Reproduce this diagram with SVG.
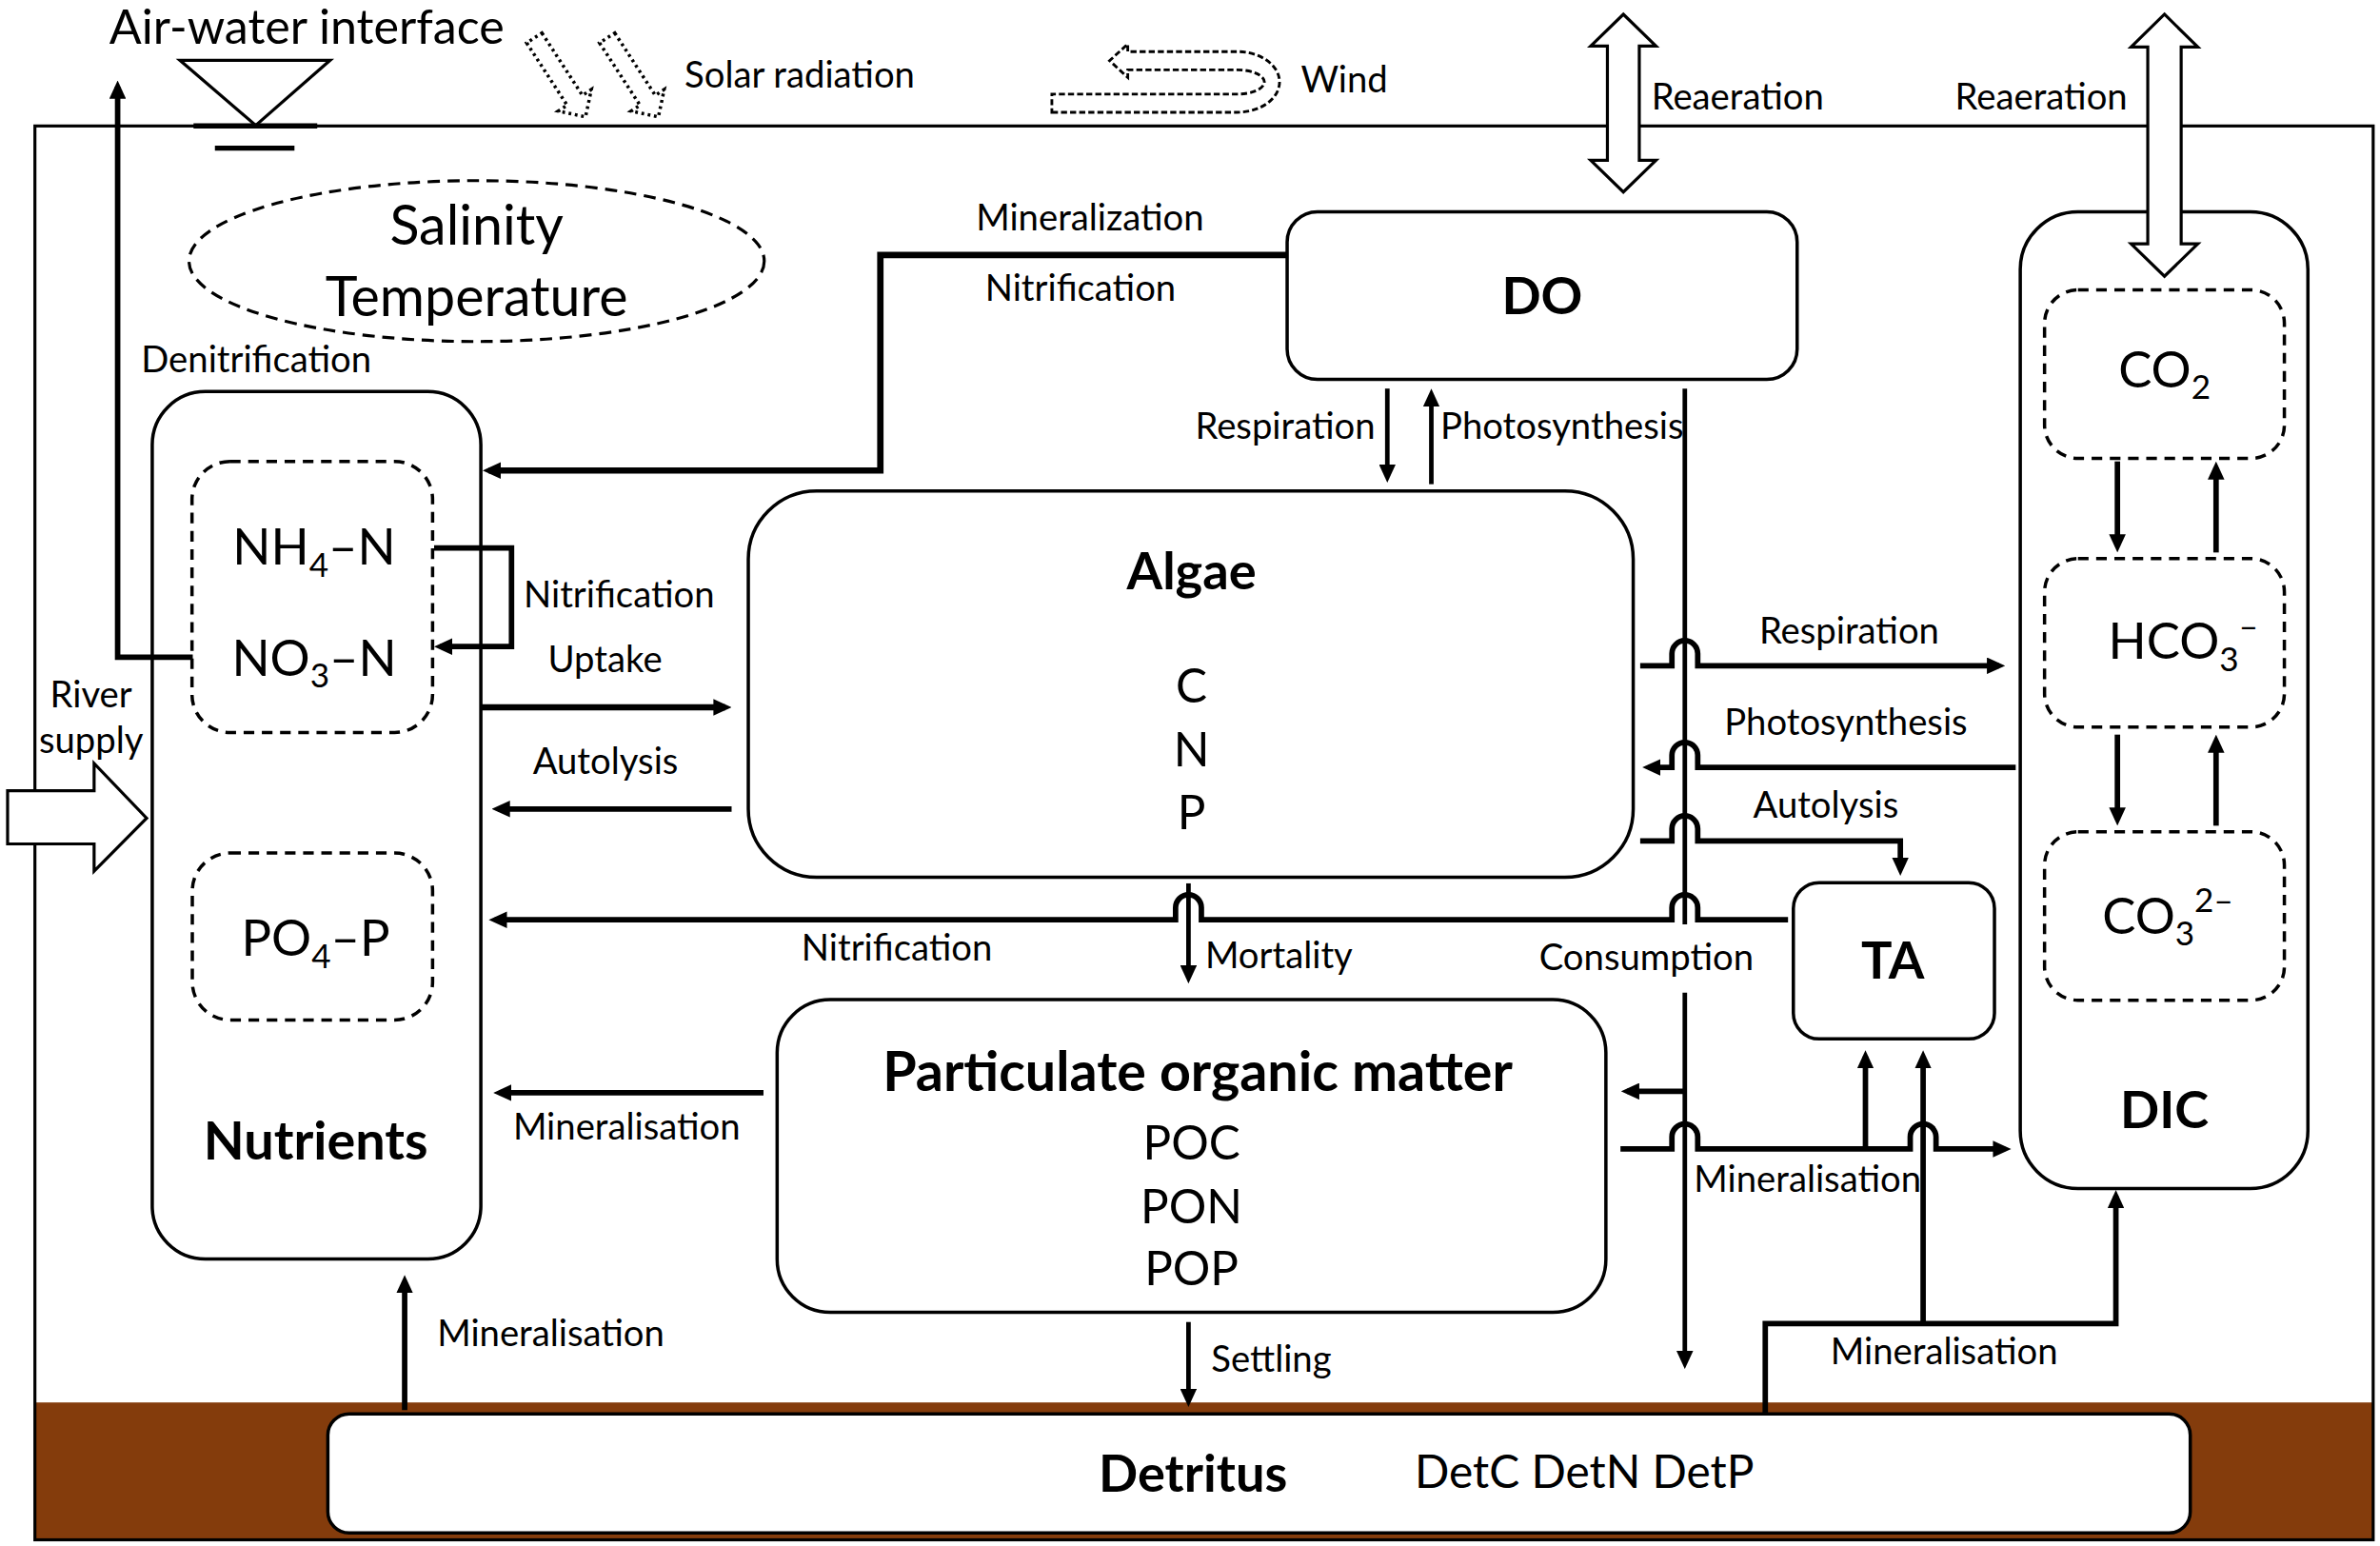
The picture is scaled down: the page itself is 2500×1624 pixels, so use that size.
<svg xmlns="http://www.w3.org/2000/svg" width="2500" height="1624" viewBox="0 0 2500 1624">
<defs>
<style>
text{font-family:Lato,"Open Sans","DejaVu Sans",sans-serif;fill:#000}
.s{font-size:24px}
.m{font-size:31px}
.l{font-size:33px}
.b{font-weight:bold;font-size:34px}
.box{fill:#fff;stroke:#000;stroke-width:2.2}
.dash{fill:#fff;stroke:#000;stroke-width:2.2;stroke-dasharray:7 5}
.ln{fill:none;stroke:#000;stroke-width:3.6;stroke-linejoin:miter}
.ln3{fill:none;stroke:#000;stroke-width:3}
.ar{marker-end:url(#ah)}
.blk{fill:#fff;stroke:#000;stroke-width:2}
</style>
<marker id="ah" viewBox="0 0 12 11" refX="8" refY="5.5" markerWidth="12" markerHeight="11" markerUnits="userSpaceOnUse" orient="auto">
<path d="M0,0 L12,5.5 L0,11 Z" fill="#000"/>
</marker>
</defs>
<rect width="2500" height="1624" fill="#fff"/>
<g transform="scale(1.594388)">
<g id="water-column">
<rect x="23" y="924" width="1540.5" height="90.5" fill="#843C0C"/>
<rect x="23" y="83" width="1540.5" height="931.5" fill="none" stroke="#000" stroke-width="2"/>
</g>
<g id="air-water-interface">
<polygon points="118.5,39.7 217.5,39.7 168.5,82.6" fill="#fff" stroke="#000" stroke-width="2"/>
<line x1="127.5" y1="83" x2="209" y2="83" stroke="#000" stroke-width="3.5"/>
<line x1="141.6" y1="97.6" x2="194" y2="97.6" stroke="#000" stroke-width="3.2"/>
<text x="72" y="29" style="font-size:31.5px">Air-water interface</text>
</g>
<g id="solar-radiation">
<polygon points="0,-6 49,-6 49,-13 62,0 49,13 49,6 0,6" transform="translate(352,25) rotate(57)" fill="none" stroke="#000" stroke-width="2.2" stroke-dasharray="1.8 2.4"/>
<polygon points="0,-6 49,-6 49,-13 62,0 49,13 49,6 0,6" transform="translate(400,25) rotate(57)" fill="none" stroke="#000" stroke-width="2.2" stroke-dasharray="1.8 2.4"/>
<text class="s" x="451" y="58">Solar radiation</text>
</g>
<g id="wind">
<path d="M693,74 H815 A28,20 0 0 0 815,34 H743 V29 L731,40 L743,51 V46 H815 A18,8 0 0 1 815,62 H693 Z" fill="none" stroke="#000" stroke-width="1.8" stroke-dasharray="4 2"/>
<text class="s" x="857" y="61">Wind</text>
</g>
<g id="salinity-temperature">
<ellipse cx="314" cy="172" rx="189.5" ry="53" fill="none" stroke="#000" stroke-width="2" stroke-dasharray="8 5"/>
<text x="314" y="161" text-anchor="middle" style="font-size:36px">Salinity</text>
<text x="314" y="208" text-anchor="middle" style="font-size:36px">Temperature</text>
</g>
<g id="nutrients">
<rect class="box" x="100.3" y="258" width="216.5" height="571.5" rx="35"/>
<rect class="dash" x="126.5" y="304" width="158.5" height="178.6" rx="25"/>
<text class="l" x="207" y="372" text-anchor="middle">NH<tspan style="font-size:22px" dy="8">4</tspan><tspan dy="-8">–N</tspan></text>
<text class="l" x="207" y="445" text-anchor="middle">NO<tspan style="font-size:22px" dy="8">3</tspan><tspan dy="-8">–N</tspan></text>
<rect class="dash" x="126.7" y="562" width="158.3" height="110" rx="25"/>
<text class="l" x="208" y="630" text-anchor="middle">PO<tspan style="font-size:22px" dy="8">4</tspan><tspan dy="-8">–P</tspan></text>
<text class="b" x="208" y="764" text-anchor="middle" style="font-size:35px">Nutrients</text>
</g>
<g id="do">
<rect class="box" x="848" y="139.5" width="336" height="110.5" rx="20"/>
<text class="b" x="1016" y="207" text-anchor="middle">DO</text>
</g>
<g id="algae">
<rect class="box" x="493" y="323.5" width="583" height="254.5" rx="45"/>
<text class="b" x="785" y="388" text-anchor="middle">Algae</text>
<text class="m" x="785" y="463" text-anchor="middle">C</text>
<text class="m" x="785" y="505" text-anchor="middle">N</text>
<text class="m" x="785" y="546" text-anchor="middle">P</text>
</g>
<g id="pom">
<rect class="box" x="512" y="658.6" width="546" height="206" rx="35"/>
<text class="b" x="789" y="719" text-anchor="middle" style="font-size:36px">Particulate organic matter</text>
<text class="m" x="785" y="764" text-anchor="middle">POC</text>
<text class="m" x="785" y="806" text-anchor="middle">PON</text>
<text class="m" x="785" y="847" text-anchor="middle">POP</text>
</g>
<g id="ta">
<rect class="box" x="1181.5" y="581.5" width="132.5" height="103" rx="17"/>
<text class="b" x="1247" y="645" text-anchor="middle">TA</text>
</g>
<g id="dic">
<rect class="box" x="1331" y="139.5" width="189.5" height="643.5" rx="38"/>
<rect class="dash" x="1347" y="191" width="158" height="111" rx="22"/>
<text class="l" x="1426" y="255" text-anchor="middle">CO<tspan style="font-size:22px" dy="8">2</tspan></text>
<rect class="dash" x="1347" y="368" width="158" height="111" rx="22"/>
<text class="l" x="1389" y="434">HCO<tspan style="font-size:22px" dy="8">3</tspan><tspan style="font-size:22px" dy="-22">–</tspan></text>
<rect class="dash" x="1347" y="548" width="158" height="111" rx="22"/>
<text class="l" x="1385" y="615">CO<tspan style="font-size:22px" dy="8">3</tspan><tspan style="font-size:22px" dy="-22">2–</tspan></text>
<text class="b" x="1426" y="743" text-anchor="middle">DIC</text>
</g>
<g id="detritus">
<rect class="box" x="216" y="931.5" width="1227" height="78.5" rx="14" stroke-width="2.5"/>
<text class="b" x="786" y="983" text-anchor="middle">Detritus</text>
<text x="932" y="980" style="font-size:30px">DetC DetN DetP</text>
</g>
<g id="river-supply">
<polygon class="blk" points="5,521 62,521 62,503 96.6,539 62,574 62,556 5,556"/>
<text class="s" x="60" y="466" text-anchor="middle">River</text>
<text class="s" x="60" y="496" text-anchor="middle">supply</text>
</g>
<g id="connectors">
<path class="ln ar" d="M127,433 H77.5 V57"/>
<path class="ln ar" d="M848,168 H580 V310 H322" style="stroke-width:4.2"/>
<path class="ln ar" d="M286,361 H337 V426 H290"/>
<path class="ln ar" d="M317,466 H478" style="stroke-width:4"/>
<path class="ln ar" d="M482,533 H328"/>
<path class="ln3 ar" d="M914,256 V314"/>
<path class="ln3 ar" d="M943,319 V260"/>
<path class="ln3" d="M1110,256 V609"/>
<path class="ln3 ar" d="M1110,654 V898"/>
<path class="ln ar" d="M1110,719 H1072"/>
<path class="ln ar" d="M1080.6,438.6 H1101.5 v-8 a8.5,8.5 0 0 1 17,0 v8 H1317"/>
<path class="ln ar" d="M1328,505.6 H1118.5 v-8 a8.5,8.5 0 0 0 -17,0 v8 H1086"/>
<path class="ln ar" d="M1080.6,554 H1101.5 v-8 a8.5,8.5 0 0 1 17,0 v8 H1252 V573"/>
<path class="ln3 ar" d="M783,582 V644"/>
<path class="ln ar" d="M1178,606 H1118.5 v-8 a8.5,8.5 0 0 0 -17,0 v8 H791.5 v-8 a8.5,8.5 0 0 0 -17,0 v8 H326"/>
<path class="ln ar" d="M503,720 H329"/>
<path class="ln ar" d="M1067.6,757 H1101.5 v-8 a8.5,8.5 0 0 1 17,0 v8 H1258.5 v-8 a8.5,8.5 0 0 1 17,0 v8 H1321"/>
<path class="ln ar" d="M1229,757 V696"/>
<path class="ln ar" d="M1267,872 V696"/>
<path class="ln ar" d="M1163,932 V872 H1394 V788"/>
<path class="ln3 ar" d="M783,871 V923"/>
<path class="ln ar" d="M266.6,929 V844"/>
<path class="ln ar" d="M1395,304 V360"/>
<path class="ln ar" d="M1460,364 V308"/>
<path class="ln ar" d="M1395,484 V540"/>
<path class="ln ar" d="M1460,544 V488"/>
<polygon class="blk" points="1069.5,9.4 1091,30.3 1080,30.3 1080,105.6 1091,105.6 1069.5,126.5 1048,105.6 1059,105.6 1059,30.3 1048,30.3"/>
<polygon class="blk" points="1426,9.4 1448,31 1437,31 1437,160.6 1448,160.6 1426,182 1404,160.6 1415,160.6 1415,31 1404,31"/>
</g>
<g id="labels">
<text class="s" x="1088" y="72">Reaeration</text>
<text class="s" x="1288" y="72">Reaeration</text>
<text class="s" x="643" y="152">Mineralization</text>
<text class="s" x="649" y="198">Nitrification</text>
<text class="s" x="93" y="245">Denitrification</text>
<text class="s" x="906" y="289" text-anchor="end">Respiration</text>
<text class="s" x="949" y="289">Photosynthesis</text>
<text class="s" x="345" y="400">Nitrification</text>
<text class="s" x="361" y="443">Uptake</text>
<text class="s" x="351" y="510">Autolysis</text>
<text class="s" x="1159" y="424">Respiration</text>
<text class="s" x="1136" y="484">Photosynthesis</text>
<text class="s" x="1155" y="539">Autolysis</text>
<text class="s" x="528" y="633">Nitrification</text>
<text class="s" x="794" y="638">Mortality</text>
<text class="s" x="1014" y="639">Consumption</text>
<text class="s" x="338" y="751">Mineralisation</text>
<text class="s" x="1116" y="785">Mineralisation</text>
<text class="s" x="288" y="887">Mineralisation</text>
<text class="s" x="798" y="904">Settling</text>
<text class="s" x="1206" y="899">Mineralisation</text>
</g>
</g>
</svg>
